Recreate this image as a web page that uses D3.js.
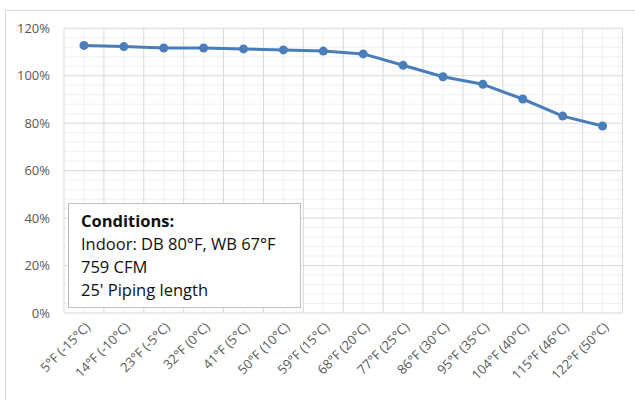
<!DOCTYPE html>
<html><head><meta charset="utf-8">
<script src="https://cdn.jsdelivr.net/npm/d3@7"></script>
<style>body{margin:0;background:#fff;}svg{display:block;}</style>
</head><body>
<svg id="c" width="635" height="400"></svg>
<script>
const categories = ["5°F (-15°C)","14°F (-10°C)","23°F (-5°C)","32°F (0°C)","41°F (5°C)","50°F (10°C)","59°F (15°C)","68°F (20°C)","77°F (25°C)","86°F (30°C)","95°F (35°C)","104°F (40°C)","115°F (46°C)","122°F (50°C)"];
const values = [112.8,112.3,111.7,111.7,111.3,110.9,110.4,109.2,104.4,99.6,96.4,90.2,83.0,78.8];
const yTicks = [0,20,40,60,80,100,120];
const notes = ["Conditions:","Indoor: DB 80°F, WB 67°F","759 CFM","25' Piping length"];

const svg = d3.select("#c");
const L=64, R=622.5, T=28.3, B=313;
svg.append("rect").attr("x",5.5).attr("y",10.5).attr("width",640).attr("height",400).attr("fill","#fff").attr("stroke","#d9d9d9");

const x = d3.scaleBand().domain(categories).range([L,R]);
const y = d3.scaleLinear().domain([0,120]).range([B,T]);

const g = svg.append("g");
g.selectAll(".hm").data(d3.range(0,121,4).filter(v=>v%20)).join("line")
 .attr("x1",L).attr("x2",R).attr("y1",d=>y(d)).attr("y2",d=>y(d)).attr("stroke","#f0f0f0");
g.selectAll(".vm").data(categories).join("line")
 .attr("x1",d=>x(d)+x.bandwidth()/2).attr("x2",d=>x(d)+x.bandwidth()/2).attr("y1",T).attr("y2",B).attr("stroke","#f0f0f0");
g.selectAll(".vM").data(d3.range(categories.length+1)).join("line")
 .attr("x1",i=>L+i*x.step()).attr("x2",i=>L+i*x.step()).attr("y1",T).attr("y2",B).attr("stroke","#d9d9d9");
g.selectAll(".hM").data(yTicks).join("line")
 .attr("x1",L).attr("x2",R).attr("y1",d=>y(d)).attr("y2",d=>y(d)).attr("stroke","#d9d9d9");

const FONT = "'Open Sans', 'Liberation Sans', sans-serif";
const ya = svg.append("g").attr("transform",`translate(${L},0)`)
 .call(d3.axisLeft(y).tickValues(yTicks).tickSize(0).tickPadding(14).tickFormat(d=>d+"%"));
ya.select(".domain").remove();
ya.selectAll("text").attr("font-family",FONT).attr("font-size",13).attr("fill","#595959");

const xa = svg.append("g").attr("transform",`translate(0,${B})`)
 .call(d3.axisBottom(x).tickSize(0).tickPadding(0));
xa.select(".domain").remove();
xa.selectAll("text").attr("font-family",FONT).attr("font-size",13).attr("fill","#595959")
 .attr("text-anchor","end").attr("dy",0).attr("transform","translate(7,15) rotate(-45)");

const line = d3.line().x((d,i)=>x(categories[i])+x.bandwidth()/2).y(d=>y(d));
svg.append("path").datum(values).attr("d",line).attr("fill","none").attr("stroke","#4a7ebb").attr("stroke-width",3).attr("stroke-linejoin","round");
svg.selectAll(".pt").data(values).join("circle")
 .attr("cx",(d,i)=>x(categories[i])+x.bandwidth()/2).attr("cy",d=>y(d)).attr("r",4.5).attr("fill","#4a7ebb");

svg.append("rect").attr("x",68.5).attr("y",203.5).attr("width",232).attr("height",104).attr("fill","#fff").attr("stroke","#bfbfbf");
svg.selectAll(".nt").data(notes).join("text")
 .attr("x",81).attr("y",(d,i)=>227+i*23)
 .attr("font-family",FONT).attr("font-size",16.5)
 .attr("font-weight",(d,i)=>i===0?"bold":"normal").attr("fill","#111").text(d=>d);
</script>
</body></html>
